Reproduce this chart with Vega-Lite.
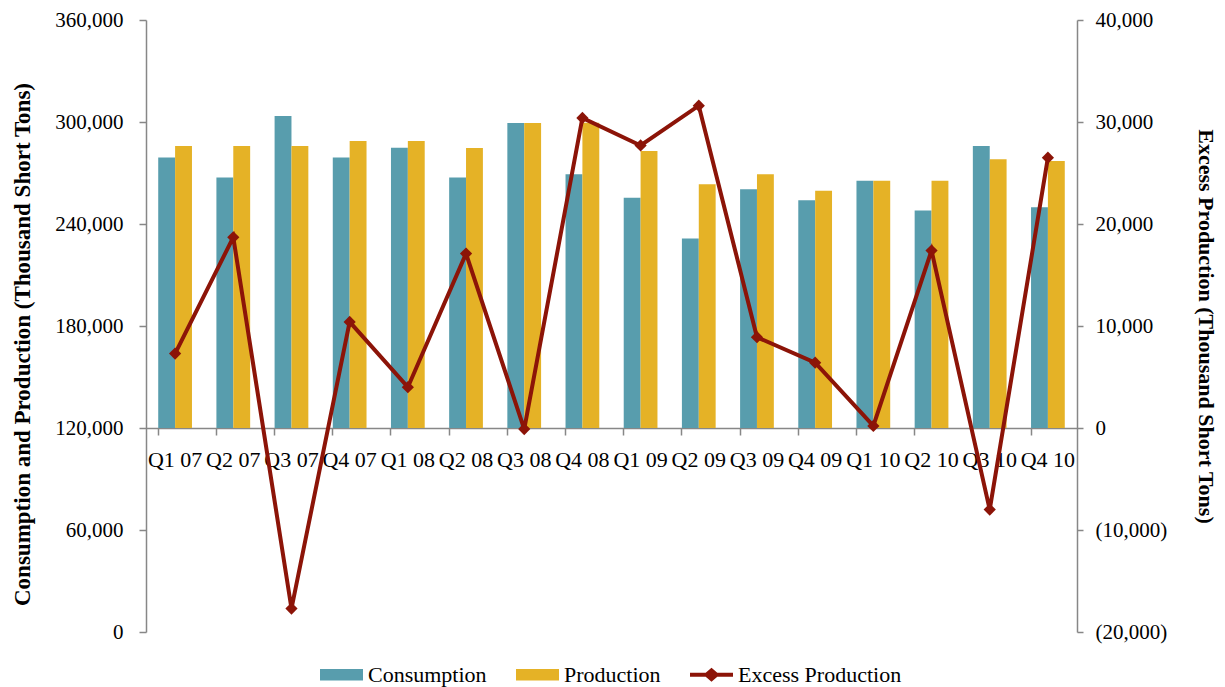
{
  "$schema": "https://vega.github.io/schema/vega-lite/v6.json",
  "width": 931,
  "height": 612,
  "autosize": "none",
  "padding": {"left": 146, "top": 20, "right": 148, "bottom": 55},
  "background": "white",
  "config": {
    "view": {"stroke": null},
    "font": "Liberation Serif",
    "axis": {
      "domainColor": "#878787",
      "domainWidth": 1.5,
      "tickColor": "#878787",
      "tickWidth": 1.5,
      "labelColor": "#000000",
      "titleColor": "#000000",
      "labelFont": "Liberation Serif",
      "titleFont": "Liberation Serif",
      "grid": false
    }
  },
  "data": {
    "values": [
      {"quarter": "Q1 07", "Consumption": 279100, "Production": 285900, "Excess": 7300},
      {"quarter": "Q2 07", "Consumption": 267300, "Production": 285900, "Excess": 18700},
      {"quarter": "Q3 07", "Consumption": 303500, "Production": 285900, "Excess": -17700},
      {"quarter": "Q4 07", "Consumption": 279100, "Production": 288800, "Excess": 10400},
      {"quarter": "Q1 08", "Consumption": 284900, "Production": 288800, "Excess": 4000},
      {"quarter": "Q2 08", "Consumption": 267300, "Production": 284700, "Excess": 17100},
      {"quarter": "Q3 08", "Consumption": 299400, "Production": 299400, "Excess": -100},
      {"quarter": "Q4 08", "Consumption": 269200, "Production": 299500, "Excess": 30400},
      {"quarter": "Q1 09", "Consumption": 255500, "Production": 282900, "Excess": 27700},
      {"quarter": "Q2 09", "Consumption": 231400, "Production": 263400, "Excess": 31600},
      {"quarter": "Q3 09", "Consumption": 260400, "Production": 269200, "Excess": 8900},
      {"quarter": "Q4 09", "Consumption": 253900, "Production": 259600, "Excess": 6400},
      {"quarter": "Q1 10", "Consumption": 265500, "Production": 265500, "Excess": 200},
      {"quarter": "Q2 10", "Consumption": 247900, "Production": 265500, "Excess": 17400},
      {"quarter": "Q3 10", "Consumption": 285900, "Production": 278100, "Excess": -8000},
      {"quarter": "Q4 10", "Consumption": 249800, "Production": 277100, "Excess": 26500}
    ]
  },
  "encoding": {
    "x": {
      "field": "quarter",
      "type": "nominal",
      "sort": null,
      "scale": {"paddingInner": 0.42, "paddingOuter": 0.21},
      "axis": {
        "orient": "bottom",
        "offset": -204,
        "title": null,
        "bandPosition": 0,
        "labelDx": 29,
        "labelAngle": 0,
        "labelFontSize": 22,
        "labelPadding": 14,
        "tickSize": 7,
        "labelBaseline": "top"
      }
    }
  },
  "layer": [
    {
      "transform": [{"fold": ["Consumption", "Production"], "as": ["series", "value"]}],
      "mark": {"type": "bar"},
      "encoding": {
        "xOffset": {"field": "series", "type": "nominal", "sort": ["Consumption", "Production"], "scale": {"paddingInner": 0, "paddingOuter": 0}},
        "y": {
          "field": "value",
          "type": "quantitative",
          "scale": {"domain": [0, 360000], "nice": false},
          "axis": {
            "orient": "left",
            "values": [0, 60000, 120000, 180000, 240000, 300000, 360000],
            "labelExpr": "format(datum.value, ',')",
            "title": "Consumption and Production (Thousand Short Tons)",
            "titleFontSize": 23,
            "titleFontWeight": "bold",
            "titlePadding": 20,
            "titleY": 324,
            "labelFontSize": 21,
            "labelPadding": 16,
            "tickSize": 7
          }
        },
        "y2": {"datum": 120000},
        "color": {
          "field": "series",
          "type": "nominal",
          "scale": {"domain": ["Consumption", "Production", "Excess Production"], "range": ["#589DAD", "#E5B226", "#8C1408"]},
          "legend": {
            "title": null,
            "orient": "none",
            "legendX": 174,
            "legendY": 633,
            "direction": "horizontal",
            "labelFontSize": 22,
            "labelFont": "Liberation Serif",
            "labelColor": "#000000",
            "labelLimit": 0,
            "symbolSize": 1849,
            "symbolType": "M-1,-0.27H1V0.27H-1Z",
            "symbolStrokeWidth": 0,
            "symbolOpacity": 1,
            "columnPadding": 29,
            "labelOffset": 5,
            "encode": {
              "symbols": {
                "update": {
                  "shape": {"signal": "datum.label === 'Excess Production' ? 'M-1,-0.09H-0.27L0,-0.32L0.27,-0.09H1V0.09H0.27L0,0.32L-0.27,0.09H-1Z' : 'M-1,-0.27H1V0.27H-1Z'"}
                }
              }
            }
          }
        }
      }
    },
    {
      "encoding": {
        "y": {
          "field": "Excess",
          "type": "quantitative",
          "scale": {"domain": [-20000, 40000], "nice": false, "zero": false},
          "axis": {
            "orient": "right",
            "values": [-20000, -10000, 0, 10000, 20000, 30000, 40000],
            "labelExpr": "datum.value < 0 ? '(' + format(-datum.value, ',') + ')' : format(datum.value, ',')",
            "title": "Excess Production (Thousand Short Tons)",
            "titleFontSize": 22,
            "titleFontWeight": "bold",
            "titlePadding": 27,
            "labelFontSize": 21,
            "labelPadding": 12,
            "tickSize": 6
          }
        }
      },
      "layer": [
        {"mark": {"type": "line", "color": "#8C1408", "strokeWidth": 4}},
        {"mark": {"type": "point", "shape": "diamond", "filled": true, "size": 150, "color": "#8C1408", "opacity": 1}}
      ]
    }
  ],
  "resolve": {"scale": {"y": "independent"}}
}
